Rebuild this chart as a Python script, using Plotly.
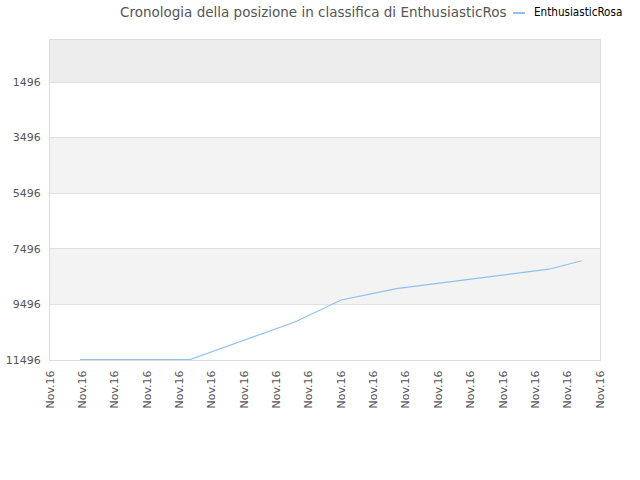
import plotly.graph_objects as go

# ranking history (lower number = better position)
pos_x = [0.93, 4.33, 7.57, 9.0, 10.71, 13.27, 15.42, 16.43]
rank = [11480, 11480, 10129, 9337, 8927, 8543, 8230, 7927]

tick_labels = ["Nov.16"] * 18
y_ticks = [1496, 3496, 5496, 7496, 9496, 11496]
band_edges = [(-15, 1496, "#ededed"), (3496, 5496, "#f3f3f3"), (7496, 9496, "#f3f3f3")]

title = "Cronologia della posizione in classifica di EnthusiasticRos"
series_name = "EnthusiasticRosa"

fig = go.Figure()
fig.add_trace(go.Scatter(x=pos_x, y=rank, mode="lines", name=series_name,
                         line=dict(color="#90c0f0", width=1.2)))

for y0, y1, c in band_edges:
    fig.add_shape(type="rect", xref="paper", yref="y", x0=0, x1=1, y0=y0, y1=y1,
                  fillcolor=c, line_width=0, layer="below")

# small legend drawn by hand (short line + label)
fig.add_shape(type="line", xref="paper", yref="paper", x0=(513 - 50) / 550, x1=(525 - 50) / 550,
              y0=1 + 27 / 320, y1=1 + 27 / 320, line=dict(color="#90c0f0", width=2))
fig.add_annotation(text=series_name, xref="paper", yref="paper", x=(532 - 50) / 550, y=1 + 28 / 320,
                   xanchor="left", yanchor="middle", showarrow=False,
                   font=dict(family="DejaVu Sans Condensed", size=11.6, color="#000"))

fig.update_layout(
    width=640, height=480,
    margin=dict(l=50, r=40, t=40, b=120),
    paper_bgcolor="white", plot_bgcolor="white",
    showlegend=False,
    title=dict(text=title, x=120 / 640, xanchor="left", y=1 - 12 / 480, yanchor="middle",
               font=dict(family="DejaVu Sans", size=13.5, color="#555")),
    font=dict(family="DejaVu Sans", size=11, color="#555"),
)
fig.update_xaxes(range=[0, 17], tickvals=list(range(18)), ticktext=tick_labels,
                 tickangle=-90, showgrid=False, zeroline=False, automargin=False,
                 ticklabelstandoff=5,
                 showline=True, linecolor="#dddddd", mirror=True, ticks="")
fig.update_yaxes(range=[11496, -15], tickvals=y_ticks, ticktext=[str(v) for v in y_ticks],
                 showgrid=True, gridcolor="#e0e0e0", automargin=False, ticklabelstandoff=6,
                 zeroline=False, showline=True, linecolor="#dddddd", mirror=True, ticks="")

fig.write_html("out.html", config={"displayModeBar": False},
               post_script="document.body.style.margin='0';")
